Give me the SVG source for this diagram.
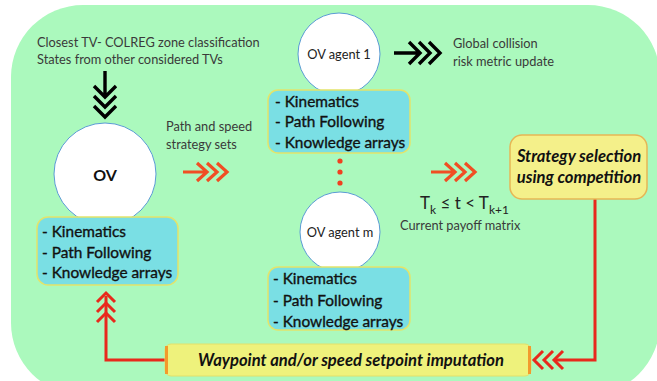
<svg xmlns="http://www.w3.org/2000/svg" width="657" height="381" viewBox="0 0 657 381">
<style>
.t{font-family:Lato,"Open Sans",sans-serif;fill:#3a3a3a;font-size:12.8px}
.bx{font-family:Lato,"Open Sans",sans-serif;fill:#111;font-size:15.4px;stroke:#111;stroke-width:0.35}
.bi{font-family:Lato,"Open Sans",sans-serif;fill:#111;font-size:16.6px;font-weight:bold;font-style:italic}
.circ{fill:#fff;stroke:#5b9bd5;stroke-width:1}
.blue{fill:#7adfe4;stroke:#e4e46a;stroke-width:1.5}
.red{fill:none;stroke:#e8291c;stroke-width:3}
.orr{fill:none;stroke:#f04e23;stroke-width:3.2}
.blk{fill:none;stroke:#000;stroke-width:3.4}
</style>
<defs>
<path id="tri" d="M0 0 H24 M14 -9 L24 0 L14 9 M24 -9 L34 0 L24 9 M34 -9 L44 0 L34 9"/>
<path id="trib" d="M0 0 H26 M15 -11 L26 0 L15 11 M25 -11 L36 0 L25 11 M35 -11 L46 0 L35 11"/>
</defs>
<rect x="11" y="5" width="649" height="390" rx="72" fill="#abf9bd"/>

<g id="connectors">
<use href="#trib" class="blk" transform="translate(105,71) rotate(90)"/>
<use href="#trib" class="blk" transform="translate(394,53)"/>
<use href="#tri" class="orr" transform="translate(183,172)"/>
<use href="#tri" class="orr" transform="translate(431,172)"/>
<path class="red" d="M595 199 V360 H556"/>
<path class="red" d="M543 351 L534 360 L543 369 M553 351 L544 360 L553 369 M563 351 L554 360 L563 369"/>
<path class="red" d="M166 360 H106 V296"/>
<path class="red" d="M97 302 L106 293 L115 302 M97 312 L106 303 L115 312 M97 322 L106 313 L115 322"/>
<g fill="#f0401f">
<circle cx="340" cy="161" r="2.6"/>
<circle cx="340" cy="172" r="2.6"/>
<circle cx="340" cy="183" r="2.6"/>
</g>
</g>

<g id="ov">
<circle class="circ" cx="105" cy="174" r="51"/>
<text x="105" y="181" text-anchor="middle" class="bx" style="font-weight:bold;font-size:16px;stroke:none">OV</text>
</g>
<g id="ov-box">
<rect class="blue" x="37" y="217" width="141" height="68" rx="11"/>
<text class="bx" x="42" y="237">- Kinematics</text>
<text class="bx" x="42" y="258">- Path Following</text>
<text class="bx" x="42" y="278">- Knowledge arrays</text>
</g>

<g id="agent1">
<circle class="circ" cx="339" cy="54" r="41"/>
<text x="339" y="59" text-anchor="middle" class="t" style="fill:#222">OV agent 1</text>
</g>
<g id="agent1-box">
<rect class="blue" x="268" y="90" width="142" height="63" rx="10"/>
<text class="bx" x="275" y="107">- Kinematics</text>
<text class="bx" x="275" y="127">- Path Following</text>
<text class="bx" x="275" y="148">- Knowledge arrays</text>
</g>

<g id="agentm">
<circle class="circ" cx="340" cy="232" r="40"/>
<text x="340" y="237" text-anchor="middle" class="t" style="fill:#222">OV agent m</text>
</g>
<g id="agentm-box">
<rect class="blue" x="268" y="267" width="142" height="63" rx="10"/>
<text class="bx" x="273" y="284">- Kinematics</text>
<text class="bx" x="273" y="306">- Path Following</text>
<text class="bx" x="273" y="327">- Knowledge arrays</text>
</g>

<g id="strategy">
<rect x="510" y="135" width="137" height="64" rx="12" fill="#f4f08a" stroke="#e6b655" stroke-width="1.5"/>
<text class="bi" x="579" y="162" text-anchor="middle">Strategy selection</text>
<text class="bi" x="579" y="183" text-anchor="middle">using competition</text>
</g>

<g id="waypoint">
<rect x="165" y="344" width="366" height="32" rx="6" fill="#eef27c" stroke="#e2e06a" stroke-width="1"/>
<rect x="165" y="346" width="3" height="28" fill="#f39a2c"/>
<rect x="528" y="346" width="3" height="28" fill="#f39a2c"/>
<text class="bi" x="351" y="366" text-anchor="middle">Waypoint and/or speed setpoint imputation</text>
</g>

<g id="labels">
<text class="t" x="37" y="47">Closest TV- COLREG zone classification</text>
<text class="t" x="37" y="64">States from other considered TVs</text>
<text class="t" x="166" y="131">Path and speed</text>
<text class="t" x="166" y="149">strategy sets</text>
<text class="t" x="453" y="48">Global collision</text>
<text class="t" x="453" y="66">risk metric update</text>
<text class="t" x="420" y="209" style="font-size:17px;fill:#222">T<tspan dy="5" font-size="12">k</tspan><tspan dy="-5"> ≤ t &lt; T</tspan><tspan dy="5" font-size="12">k+1</tspan></text>
<text class="t" x="400" y="230">Current payoff matrix</text>
</g>
</svg>
